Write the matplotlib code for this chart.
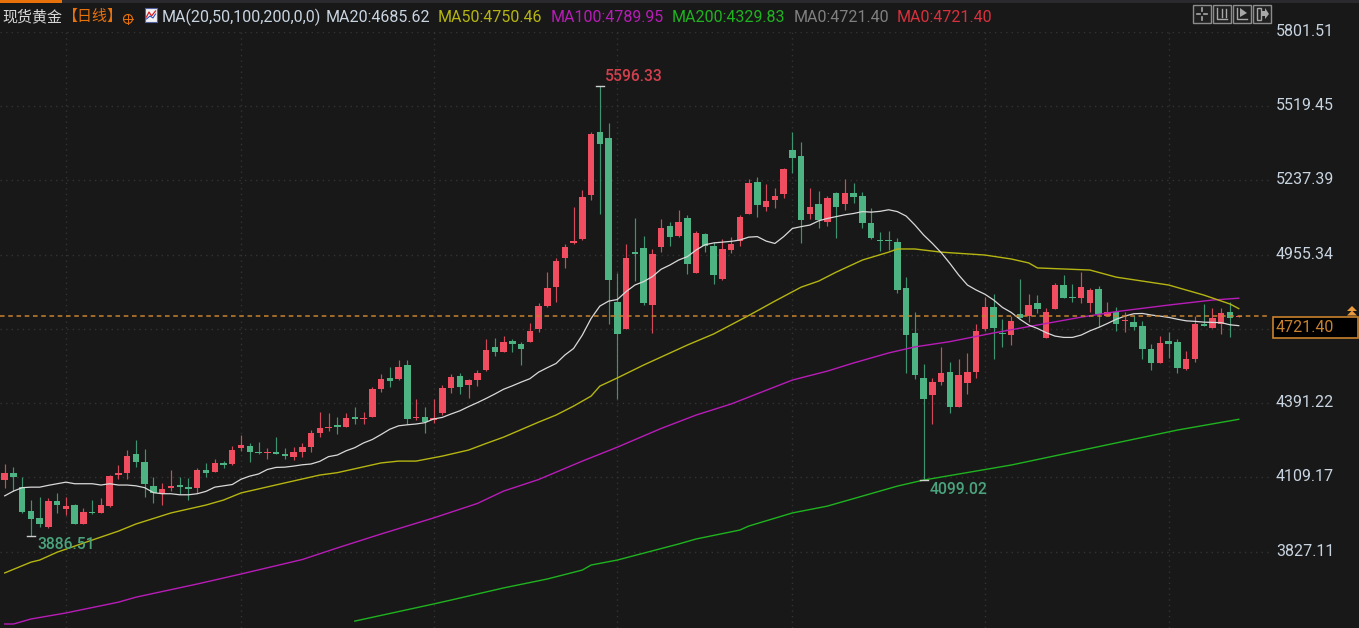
import numpy as np
import matplotlib
matplotlib.use('Agg')
import matplotlib.pyplot as plt
from matplotlib.patches import Rectangle, Polygon, Circle
from matplotlib.transforms import ScaledTranslation

plt.rcParams['font.family'] = ['Roboto', 'Noto Sans CJK SC', 'DejaVu Sans']

# daily candles
opens = [4099, 4126, 4074, 3982, 3955, 3922, 4020, 3988, 4003, 3932, 3979, 3975, 3999, 4118, 4127, 4197, 4169, 4077, 4047, 4069,
         4082, 4072, 4069, 4136, 4131, 4164, 4160, 4221, 4229, 4207, 4200, 4207, 4197, 4188, 4207, 4226, 4278, 4297, 4307, 4302,
         4340, 4331, 4340, 4445, 4485, 4482, 4535, 4333, 4340, 4327, 4352, 4450, 4495, 4459, 4478, 4516, 4604, 4587, 4628, 4615,
         4625, 4672, 4761, 4834, 4944, 5001, 5015, 5182, 5423, 5397, 4775, 4673, 4965, 4979, 4763, 4986, 5065, 5027, 5095, 4887,
         5033, 4989, 4862, 4974, 5006, 5110, 5231, 5138, 5162, 5186, 5352, 5331, 5110, 5147, 5081, 5190, 5147, 5190, 5179, 5074,
         5011, 5011, 5005, 4827, 4656, 4487, 4421, 4473, 4509, 4378, 4469, 4511, 4672, 4758, 4658, 4649, 4729, 4722, 4772, 4640,
         4748, 4841, 4796, 4791, 4772, 4824, 4723, 4739, 4702, 4699, 4685, 4596, 4545, 4628, 4625, 4521, 4559, 4691, 4678, 4692,
         4737, 4720]
highs = [4160, 4150, 4112, 4022, 4036, 4029, 4048, 4036, 4007, 3991, 4022, 4031, 4119, 4155, 4215, 4251, 4217, 4112, 4086, 4136,
         4112, 4107, 4145, 4164, 4178, 4172, 4229, 4269, 4238, 4245, 4219, 4264, 4221, 4226, 4240, 4288, 4359, 4354, 4340, 4352,
         4378, 4359, 4451, 4502, 4530, 4554, 4554, 4406, 4378, 4407, 4459, 4501, 4504, 4482, 4519, 4635, 4640, 4647, 4635, 4625,
         4696, 4770, 4891, 4943, 4996, 5138, 5201, 5421, 5596.33, 5454, 4884, 4996, 5095, 5027, 4977, 5091, 5081, 5124, 5105, 5046,
         5036, 5005, 5014, 5022, 5105, 5242, 5250, 5223, 5209, 5283, 5421, 5385, 5207, 5198, 5178, 5195, 5242, 5228, 5195, 5131,
         5043, 5046, 5017, 4870, 4739, 4539, 4485, 4606, 4549, 4558, 4582, 4692, 4796, 4805, 4710, 4722, 4862, 4806, 4801, 4751,
         4846, 4877, 4843, 4891, 4829, 4837, 4777, 4758, 4739, 4726, 4704, 4615, 4647, 4663, 4634, 4590, 4722, 4768, 4751, 4751,
         4777, 4722]
lows = [4070, 4058, 3975, 3886.51, 3922, 3918, 3975, 3965, 3932, 3931, 3969, 3972, 3998, 4103, 4103, 4148, 4036, 4013, 4003, 4058,
        4045, 4025, 4050, 4112, 4129, 4145, 4158, 4210, 4169, 4197, 4179, 4197, 4179, 4174, 4186, 4207, 4264, 4286, 4273, 4302,
        4312, 4312, 4338, 4435, 4454, 4478, 4312, 4327, 4276, 4317, 4347, 4430, 4425, 4411, 4457, 4514, 4571, 4585, 4585, 4538,
        4625, 4663, 4758, 4777, 4906, 4996, 5011, 5163, 5110, 4692, 4407, 4673, 4856, 4763, 4659, 4967, 4989, 5024, 4882, 4887,
        4967, 4844, 4859, 4963, 4987, 5109, 5100, 5122, 5133, 5171, 5264, 5001, 5091, 5058, 5065, 5020, 5124, 5152, 5058, 5015,
        4970, 4973, 4811, 4507, 4483, 4099.02, 4311, 4459, 4355, 4378, 4426, 4488, 4666, 4559, 4606, 4611, 4713, 4701, 4735, 4640,
        4748, 4791, 4777, 4773, 4739, 4682, 4721, 4666, 4663, 4669, 4558, 4516, 4545, 4563, 4507, 4516, 4549, 4685, 4675, 4654,
        4644, 4720]
closes = [4124, 4112, 3979, 3951, 3931, 4020, 4003, 4001, 3932, 3979, 3972, 4003, 4115, 4126, 4191, 4169, 4084, 4048, 4064, 4077,
          4074, 4065, 4136, 4126, 4164, 4155, 4215, 4231, 4207, 4200, 4205, 4197, 4189, 4207, 4226, 4278, 4297, 4302, 4302, 4333,
          4330, 4335, 4444, 4482, 4476, 4530, 4330, 4340, 4319, 4333, 4449, 4492, 4454, 4478, 4506, 4595, 4587, 4623, 4616, 4597,
          4666, 4761, 4827, 4932, 4984, 5008, 5174, 5414, 5376, 4859, 4654, 4943, 4959, 4773, 4957, 5057, 5024, 5079, 4920, 5038,
          4989, 4877, 4976, 4995, 5098, 5228, 5143, 5160, 5179, 5280, 5323, 5086, 5138, 5086, 5169, 5138, 5190, 5176, 5077, 5017,
          5007, 5007, 4820, 4650, 4497, 4407, 4471, 4506, 4378, 4497, 4511, 4666, 4758, 4678, 4653, 4704, 4716, 4763, 4748, 4739,
          4839, 4792, 4791, 4834, 4820, 4729, 4739, 4692, 4707, 4680, 4597, 4544, 4620, 4615, 4525, 4558, 4691, 4685, 4713, 4732,
          4716, 4721.4]

# moving averages
ma20 = [4039, 4057, 4070, 4072, 4072, 4079, 4085, 4091, 4085, 4085, 4085, 4080, 4085, 4080, 4080, 4077, 4070, 4051, 4047, 4047,
        4043, 4043, 4047, 4056, 4072, 4077, 4082, 4102, 4114, 4122, 4139, 4147, 4148, 4152, 4157, 4160, 4170, 4188, 4194, 4210,
        4222, 4240, 4253, 4272, 4292, 4305, 4309, 4312, 4317, 4331, 4337, 4350, 4362, 4378, 4393, 4409, 4426, 4444, 4457, 4471,
        4484, 4509, 4526, 4542, 4574, 4599, 4650, 4713, 4760, 4779, 4785, 4815, 4840, 4853, 4872, 4900, 4916, 4935, 4948, 4973,
        4993, 5000, 5003, 5006, 5011, 5022, 5024, 5007, 4998, 5024, 5055, 5062, 5068, 5084, 5093, 5100, 5107, 5112, 5119, 5117,
        5120, 5126, 5119, 5102, 5068, 5030, 4998, 4963, 4922, 4878, 4840, 4821, 4805, 4783, 4755, 4736, 4710, 4688, 4675, 4659,
        4646, 4641, 4641, 4650, 4666, 4679, 4694, 4710, 4722, 4731, 4732, 4726, 4722, 4717, 4710, 4704, 4702, 4699, 4698, 4697,
        4689, 4685.62]

ma50_idx = [0, 3, 4, 6, 10, 13, 15, 19, 23, 25, 27, 32, 36, 38, 43, 45, 47, 50, 53, 55, 57, 61, 63, 65, 67, 68, 70, 73, 78, 81,
            85, 88, 91, 93, 95, 98, 101, 102, 104, 107, 112, 115, 117, 118, 124, 127, 133, 137, 140, 141]
ma50 = [3746, 3787, 3795, 3825, 3871, 3905, 3932, 3974, 4004, 4023, 4050, 4088, 4118, 4127, 4164, 4171, 4171, 4190, 4213, 4238,
        4262, 4319, 4346, 4380, 4418, 4456, 4487, 4536, 4612, 4654, 4724, 4779, 4832, 4855, 4889, 4935, 4965, 4977, 4977, 4965,
        4954, 4939, 4924, 4905, 4897, 4870, 4840, 4802, 4768, 4750.46]

ma100_idx = [0, 1, 3, 7, 13, 15, 22, 27, 34, 38, 43, 49, 54, 57, 61, 66, 70, 75, 79, 83, 90, 94, 97, 101, 104, 108, 113, 118, 123,
             127, 133, 138, 141]
ma100 = [3552, 3552, 3571, 3594, 3635, 3654, 3704, 3742, 3797, 3841, 3894, 3955, 4010, 4057, 4101, 4171, 4224, 4295, 4346, 4388,
         4479, 4513, 4544, 4582, 4605, 4625, 4658, 4688, 4718, 4739, 4764, 4783, 4789.95]

ma200_idx = [40, 49, 51, 57, 62, 66, 67, 70, 77, 79, 84, 85, 90, 94, 102, 105, 115, 127, 134, 141]
ma200 = [3563, 3628, 3643, 3689, 3723, 3757, 3776, 3795, 3856, 3875, 3909, 3924, 3974, 4000, 4076, 4099, 4156, 4240, 4289, 4329.83]

price_ticks = [5801.51, 5519.45, 5237.39, 4955.34, 4391.22, 4109.17, 3827.11]
grid_prices = [5801.51, 5519.45, 5237.39, 4955.34, 4673.28, 4391.22, 4109.17, 3827.11]
grid_candles = [7, 27, 49, 70, 90, 112, 133]
last_price = 4721.40
peak_label = '5596.33'
low_label = '4099.02'
first_low_label = '3886.51'

header_items = [
    ('现货黄金', 2, '#d8d8d8', 10.8),
    ('【日线】', 62, '#e8710a', 10.8),
    ('MA(20,50,100,200,0,0)', 162, '#c8d4e0', 11.5),
    ('MA20:4685.62', 326, '#c8d4e0', 11.5),
    ('MA50:4750.46', 438, '#b5b512', 11.5),
    ('MA100:4789.95', 551, '#b81cb8', 11.5),
    ('MA200:4329.83', 672, '#1fb31f', 11.5),
    ('MA0:4721.40', 794, '#808080', 11.5),
    ('MA0:4721.40', 897, '#d8303c', 11.5),
]

BG = '#181818'
RED = '#f04e60'
GREEN = '#4db383'
ORANGE = '#c8822e'

W, H = 1359, 628
fig = plt.figure(figsize=(W / 100, H / 100), dpi=100, facecolor=BG)

# price pane: 0..1270 px wide, 32..628 px down
ax = fig.add_axes([0, 0, 1270 / W, 596 / H], facecolor=BG)
ax.set_xlim(-0.537, 144.57)
ax.set_ylim(3536.8, 5801.51)
for s in ax.spines.values():
    s.set_visible(False)

ax.set_xticks(grid_candles)
ax.set_xticklabels([])
ax.set_yticks(grid_prices)
ax.set_yticklabels(['' if p not in price_ticks else f'{p:.2f}' for p in grid_prices])
ax.yaxis.tick_right()
ax.tick_params(axis='both', length=0)
ax.tick_params(axis='y', pad=4.2, labelsize=11.5, labelcolor='#c8d4e0')
ax.grid(True, color='#333333', linewidth=1.0, linestyle=(0, (1, 3)), zorder=0)
ax.set_axisbelow(True)
# labels sit a little above their grid line
lift = ScaledTranslation(0, 2 / 100, fig.dpi_scale_trans)
for lab in ax.get_yticklabels():
    lab.set_transform(lab.get_transform() + lift)

idx = np.arange(len(opens))
o = np.array(opens, dtype=float)
c = np.array(closes, dtype=float)
up = c >= o
colors = np.where(up, RED, GREEN)
wick_colors = np.where(up, '#d04a5a', '#3f9470')

ax.vlines(idx, lows, highs, colors=wick_colors, linewidth=0.85, zorder=2)
bottoms = np.minimum(o, c)
heights = np.maximum(np.abs(c - o), 4.0)
ax.bar(idx, heights, bottom=bottoms, width=0.74, color=colors, linewidth=0, zorder=3)

ax.plot(ma200_idx, ma200, color='#1fb31f', linewidth=1.0, zorder=4)
ax.plot(ma100_idx, ma100, color='#b81cb8', linewidth=1.0, zorder=4)
ax.plot(ma50_idx, ma50, color='#b5b512', linewidth=1.0, zorder=4)
ax.plot(idx, ma20, color='#d9d9d9', linewidth=0.9, zorder=5)

ax.axhline(last_price, color=ORANGE, linewidth=1.1, linestyle=(0, (3, 2.4)), zorder=6)

# high / low markers
peak_i = int(np.argmax(highs))
low_i = int(np.argmin(lows[40:])) + 40
first_i = int(np.argmin(lows[:40]))
for i, val in [(peak_i, highs[peak_i]), (low_i, lows[low_i]), (first_i, lows[first_i])]:
    ax.plot([i - 0.45, i + 0.45], [val, val], color='#d0d0d0', linewidth=1.0, zorder=6)
ax.annotate(peak_label, (peak_i, highs[peak_i]), xytext=(5, 9), textcoords='offset pixels',
            color='#d2404e', fontsize=11.3, fontweight='medium', va='center', zorder=7)
ax.annotate(low_label, (low_i, lows[low_i]), xytext=(6, -9), textcoords='offset pixels',
            color='#4aa37c', fontsize=11.3, fontweight='medium', va='center', zorder=7)
ax.annotate(first_low_label, (first_i, lows[first_i]), xytext=(6, -9), textcoords='offset pixels',
            color='#4aa37c', fontsize=11.3, fontweight='medium', va='center', zorder=7)

# chrome in pixel coordinates
ov = fig.add_axes([0, 0, 1, 1], facecolor='none')
ov.set_xlim(0, W)
ov.set_ylim(H, 0)
ov.axis('off')

ov.add_patch(Rectangle((0, 0), W, 3, color='#2a2a2e', linewidth=0))
ov.add_patch(Rectangle((0, 0), 62, 3, color='#e8710a', linewidth=0))

for label, x, col, size in header_items:
    ov.text(x, 17, label, color=col, fontsize=size, ha='left', va='center')

# small globe next to the period
ov.add_patch(Circle((128, 19), 4.5, fill=False, edgecolor='#e8710a', linewidth=0.8))
ov.plot([123.5, 132.5], [19, 19], color='#e8710a', linewidth=0.7)
ov.plot([128, 128], [14.5, 23.5], color='#e8710a', linewidth=0.7)

# indicator icon
ov.add_patch(Rectangle((145, 8), 12, 14, facecolor='#f2f2f2', edgecolor='#5060a0', linewidth=0.8))
ov.plot([146.5, 149, 151.5, 155.5], [17, 12, 16, 11], color='#d82020', linewidth=0.9)
ov.plot([146.5, 150, 153, 155.5], [19, 16, 18, 14], color='#2040c0', linewidth=0.7)

# toolbar buttons
for x0 in [1193, 1213, 1233, 1253]:
    ov.add_patch(Rectangle((x0, 5), 18, 18, facecolor='#202020', edgecolor='#8c8c8c', linewidth=1.0))
gc = '#a8a8a8'
ov.plot([1197, 1200], [14, 14], color=gc, lw=1.2)
ov.plot([1204, 1207], [14, 14], color=gc, lw=1.2)
ov.plot([1202, 1202], [8, 11], color=gc, lw=1.2)
ov.plot([1202, 1202], [17, 20], color=gc, lw=1.2)
ov.plot([1217, 1217, 1227], [8, 19, 19], color=gc, lw=1.0)
ov.plot([1222, 1222], [9, 17], color=gc, lw=1.0)
ov.plot([1226, 1226], [9, 17], color=gc, lw=1.0)
ov.plot([1237, 1237, 1247], [8, 19, 19], color=gc, lw=1.0)
ov.add_patch(Polygon([(1240, 8), (1240, 17), (1247, 13)], color=gc, linewidth=0))
ov.add_patch(Rectangle((1257, 8), 4, 12, fill=False, edgecolor=gc, linewidth=1.0))
ov.add_patch(Polygon([(1262, 11), (1265, 11), (1265, 8), (1269, 14), (1265, 19), (1265, 16), (1262, 16)], color=gc, linewidth=0))

# last price box
ov.add_patch(Rectangle((1272.5, 316.5), 85, 21, facecolor='black', edgecolor=ORANGE, linewidth=1.2))
ov.text(1276, 327, f'{last_price:.2f}', color=ORANGE, fontsize=11.5, ha='left', va='center')
for y0 in [306, 310.5]:
    ov.add_patch(Polygon([(1347, y0 + 5), (1352, y0), (1357, y0 + 5)], color='#e89a3c', linewidth=0))

fig.savefig('out.png', dpi=100, facecolor=BG)
